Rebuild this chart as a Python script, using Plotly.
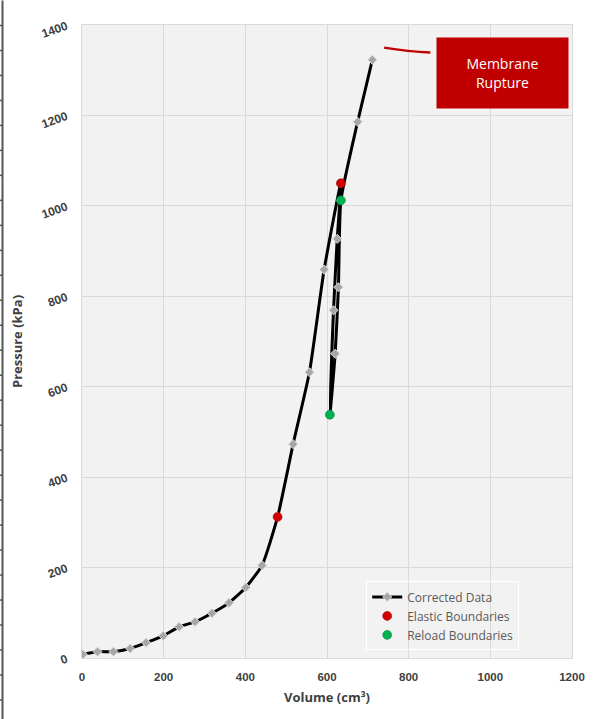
import plotly.graph_objects as go

# ---- data ----
volume = [2, 38, 77, 118, 157, 199, 238, 277, 318, 360, 401, 441, 479, 517, 557,
          593, 634, 625, 616, 607, 620, 628, 634, 675, 711]
pressure = [8, 14, 14, 21, 34, 49, 69, 80, 99, 122, 156, 205, 312, 473, 632,
            859, 1050, 927, 769, 538, 673, 820, 1012, 1186, 1323]

elastic_v = [479, 634]
elastic_p = [312, 1050]

reload_v = [607, 634]
reload_p = [538, 1012]

x_ticks = [0, 200, 400, 600, 800, 1000, 1200]
y_ticks = [0, 200, 400, 600, 800, 1000, 1200, 1400]

W, H = 605, 719
L, R, T, B = 82, 33, 24.5, 61

fig = go.Figure()
fig.add_trace(go.Scatter(
    x=volume, y=pressure, mode="lines+markers", name="Corrected Data",
    line=dict(color="black", width=3, shape="spline", smoothing=0.5),
    marker=dict(symbol="diamond", size=7, color="#a6a6a6",
                line=dict(color="#d9d9d9", width=1)),
))
fig.add_trace(go.Scatter(
    x=elastic_v, y=elastic_p, mode="markers", name="Elastic Boundaries",
    marker=dict(symbol="circle", size=9, color="#d00000",
                line=dict(color="#a00000", width=0.5)),
))
fig.add_trace(go.Scatter(
    x=reload_v, y=reload_p, mode="markers", name="Reload Boundaries",
    marker=dict(symbol="circle", size=9, color="#00b050",
                line=dict(color="#00803a", width=0.5)),
))

tick_fam = "Liberation Sans, Open Sans, sans-serif"
text_fam = "Open Sans, Liberation Sans, sans-serif"

# Membrane rupture callout
fig.add_shape(type="path", xref="x", yref="y",
              path="M 740,1350 Q 800,1341 853,1339",
              line=dict(color="#c00000", width=2.5))
fig.add_annotation(x=1030, y=1293, xref="x", yref="y", text="Membrane<br>Rupture",
                   showarrow=False, bgcolor="#c00000", width=129, height=68,
                   font=dict(color="white", size=14, family=text_fam),
                   align="center", valign="middle")

# left ruler decoration (page edge)
pa_w = W - L - R
pa_h = H - T - B
x_line = (2.5 - L) / pa_w
x_tick0 = (0 - L) / pa_w
fig.add_shape(type="line", xref="paper", yref="paper",
              x0=x_line, x1=x_line, y0=(H - B) / pa_h, y1=(H - B - H) / pa_h,
              line=dict(color="#555555", width=2))
for k in range(1, 29):
    yp = (H - B - 25 * k) / pa_h
    fig.add_shape(type="line", xref="paper", yref="paper",
                  x0=x_tick0, x1=x_line, y0=yp, y1=yp,
                  line=dict(color="#555555", width=1.5))

fig.update_layout(
    width=W, height=H,
    margin=dict(l=L, r=R, t=T, b=B, autoexpand=False),
    paper_bgcolor="white",
    plot_bgcolor="#f2f2f2",
    font=dict(family=text_fam, color="#404040"),
    showlegend=True,
    legend=dict(x=0.58, y=0.121, xanchor="left", yanchor="top",
                bgcolor="rgba(0,0,0,0)", bordercolor="white", borderwidth=1,
                font=dict(size=12, color="#595959", family=text_fam),
                tracegroupgap=0, itemwidth=30),
    xaxis=dict(range=[0, 1200], tickvals=x_ticks, ticktext=[str(v) for v in x_ticks],
               showgrid=True, gridcolor="#d9d9d9", gridwidth=1, zeroline=False,
               showline=True, linecolor="#d9d9d9", mirror=True, automargin=False,
               tickfont=dict(size=11.5, color="#404040", family=tick_fam, weight="bold"),
               ticklabelstandoff=8,
               title=dict(text="<b>Volume (cm³)</b>", font=dict(size=13, color="#404040"), standoff=11)),
    yaxis=dict(range=[0, 1400], tickvals=y_ticks, ticktext=[str(v) for v in y_ticks],
               showgrid=True, gridcolor="#d9d9d9", gridwidth=1, zeroline=False,
               showline=True, linecolor="#d9d9d9", mirror=True, automargin=False,
               tickangle=-20,
               tickfont=dict(size=12, color="#404040", family=tick_fam, weight="bold"),
               ticklabelstandoff=12,
               title=dict(text="<b>Pressure (kPa)</b>", font=dict(size=13, color="#404040"), standoff=14)),
)

fig.write_html("out.html", config={"displayModeBar": False},
               post_script="document.body.style.margin='0';")
